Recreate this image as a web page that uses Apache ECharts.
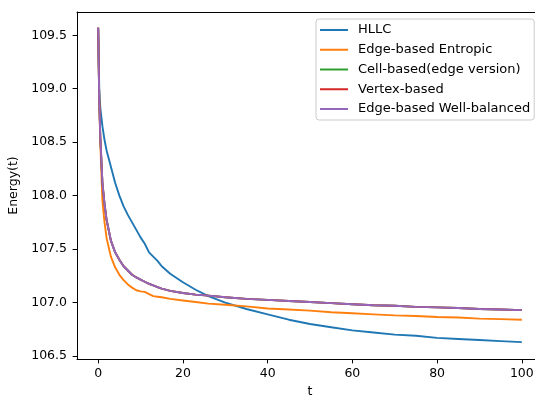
<!DOCTYPE html>
<html>
<head>
<meta charset="utf-8">
<script src="https://cdn.jsdelivr.net/npm/echarts@6/dist/echarts.min.js"></script>
<style>
html,body{margin:0;padding:0;background:#fff;}
#chart{width:535px;height:395px;}
</style>
</head>
<body>
<div id="chart"></div>
<script>
var times = [0, 0.25, 0.5, 1, 1.5, 2, 3, 4, 5, 6, 7, 8, 9, 10, 11, 12, 13, 14, 15, 17, 20, 23, 26, 30, 35, 40, 45, 50, 55, 60, 65, 70, 75, 80, 85, 90, 95, 100];

var hllc = [109.57, 109.0, 108.82, 108.65, 108.52, 108.42, 108.27, 108.12, 108.00, 107.90, 107.82, 107.75, 107.68, 107.61, 107.55, 107.47, 107.43, 107.39, 107.34, 107.27, 107.19, 107.12, 107.06, 107.00, 106.94, 106.89, 106.84, 106.80, 106.77, 106.74, 106.72, 106.70, 106.69, 106.67, 106.66, 106.65, 106.64, 106.63];

var edgeEntropic = [109.57, 108.9, 108.5, 107.95, 107.75, 107.6, 107.43, 107.33, 107.26, 107.21, 107.17, 107.14, 107.115, 107.105, 107.10, 107.08, 107.06, 107.055, 107.05, 107.035, 107.02, 107.005, 106.99, 106.98, 106.965, 106.945, 106.935, 106.925, 106.91, 106.90, 106.89, 106.88, 106.875, 106.865, 106.86, 106.85, 106.845, 106.84];

var cellBased = [109.57, 108.9, 108.55, 108.12, 107.92, 107.77, 107.58, 107.47, 107.40, 107.34, 107.30, 107.26, 107.235, 107.215, 107.195, 107.175, 107.16, 107.145, 107.13, 107.11, 107.09, 107.075, 107.065, 107.05, 107.035, 107.025, 107.015, 107.005, 106.995, 106.985, 106.975, 106.97, 106.96, 106.955, 106.95, 106.94, 106.935, 106.93];

var vertexBased = [109.57, 108.9, 108.55, 108.12, 107.92, 107.77, 107.58, 107.47, 107.40, 107.34, 107.30, 107.26, 107.235, 107.215, 107.195, 107.175, 107.16, 107.145, 107.13, 107.11, 107.09, 107.075, 107.065, 107.05, 107.035, 107.025, 107.015, 107.005, 106.995, 106.985, 106.975, 106.97, 106.96, 106.955, 106.95, 106.94, 106.935, 106.93];

var edgeWellBalanced = [109.57, 108.9, 108.55, 108.12, 107.92, 107.77, 107.58, 107.47, 107.40, 107.34, 107.30, 107.26, 107.235, 107.215, 107.195, 107.175, 107.16, 107.145, 107.13, 107.11, 107.09, 107.075, 107.065, 107.05, 107.035, 107.025, 107.015, 107.005, 106.995, 106.985, 106.975, 106.97, 106.96, 106.955, 106.95, 106.94, 106.935, 106.93];

var seriesNames = ['HLLC', 'Edge-based Entropic', 'Cell-based(edge version)', 'Vertex-based', 'Edge-based Well-balanced'];
var seriesValues = [hllc, edgeEntropic, cellBased, vertexBased, edgeWellBalanced];
var seriesColors = ['#1f77b4', '#ff7f0e', '#2ca02c', '#d62728', '#9467bd'];

var xTicks = [0, 20, 40, 60, 80, 100];
var yTicks = [106.5, 107.0, 107.5, 108.0, 108.5, 109.0, 109.5];

var FONT = 'DejaVu Sans';

function pairs(vals) {
  return times.map(function (t, i) { return [t, vals[i]]; });
}

var chart = echarts.init(document.getElementById('chart'), null, {renderer: 'canvas'});
chart.setOption({
  animation: false,
  backgroundColor: '#ffffff',
  textStyle: {fontFamily: FONT},
  grid: {
    left: 77, top: 12, right: -8, bottom: 36,
    outerBoundsMode: 'none', containLabel: false,
    show: false
  },
  legend: {
    orient: 'vertical',
    left: 316, top: 19,
    padding: [4, 4, 4, 4],
    itemGap: 5.75,
    itemWidth: 28, itemHeight: 2,
    icon: 'rect',
    borderColor: '#cccccc', borderWidth: 1, borderRadius: 3,
    backgroundColor: 'rgba(255,255,255,0.8)',
    textStyle: {fontFamily: FONT, fontSize: 13, color: '#000', lineHeight: 14, padding: [0, 0, 0, 5]},
    data: seriesNames
  },
  xAxis: [{
    type: 'value',
    min: -5, max: 105,
    name: 't', nameLocation: 'middle', nameGap: 25,
    nameTextStyle: {fontFamily: FONT, fontSize: 12.5, color: '#000'},
    axisLine: {show: true, onZero: false, lineStyle: {color: '#000', width: 1}},
    axisTick: {show: true, length: 4.4, lineStyle: {color: '#000', width: 1}, customValues: xTicks},
    axisLabel: {margin: 8, fontFamily: FONT, fontSize: 12.5, color: '#000', customValues: xTicks,
      formatter: function (v) { return String(Math.round(v)); }},
    splitLine: {show: false}
  }, {
    type: 'value', position: 'top',
    min: -5, max: 105,
    axisLine: {show: true, onZero: false, lineStyle: {color: '#000', width: 1}},
    axisTick: {show: false}, axisLabel: {show: false}, splitLine: {show: false}
  }],
  yAxis: {
    type: 'value',
    min: 106.4725, max: 109.7175,
    name: 'Energy(t)', nameLocation: 'middle', nameGap: 44,
    nameTextStyle: {fontFamily: FONT, fontSize: 12.5, color: '#000'},
    axisLine: {show: true, onZero: false, lineStyle: {color: '#000', width: 1}},
    axisTick: {show: true, length: 4.4, lineStyle: {color: '#000', width: 1}, customValues: yTicks},
    axisLabel: {margin: 10, fontFamily: FONT, fontSize: 12.5, color: '#000', customValues: yTicks,
      formatter: function (v) { return v.toFixed(1); }},
    splitLine: {show: false}
  },
  series: seriesNames.map(function (n, i) {
    return {
      name: n, type: 'line', data: pairs(seriesValues[i]), xAxisIndex: 0,
      showSymbol: false, symbol: 'none', color: seriesColors[i],
      lineStyle: {width: 1.9, color: seriesColors[i]},
      clip: true
    };
  })
});
</script>
</body>
</html>
